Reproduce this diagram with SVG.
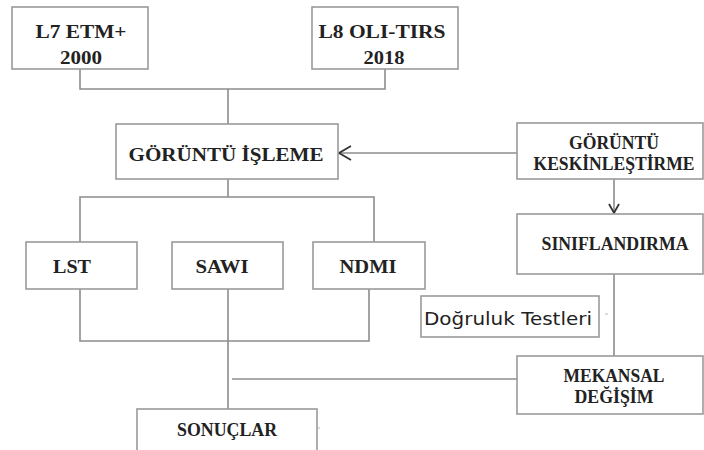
<svg xmlns="http://www.w3.org/2000/svg" width="704" height="450" viewBox="0 0 704 450">
<style>
.box{fill:#fff;stroke:#9a9a9a;stroke-width:1.6}
.lbl{font-family:"Liberation Serif","Times New Roman",serif;font-weight:bold;font-size:18px;fill:#222;text-anchor:middle}
.sans{font-family:"DejaVu Sans","Liberation Sans",sans-serif;font-size:17px;fill:#222;text-anchor:middle}
.con{fill:none;stroke:#8c8c8c;stroke-width:1.6}
</style>
<defs>
<marker id="chev" markerUnits="userSpaceOnUse" markerWidth="16" markerHeight="18" viewBox="-14 -9 16 18" refX="0" refY="0" orient="auto">
<path d="M-12,-7 L0,0 L-12,7" fill="none" stroke="#333" stroke-width="1.8"/>
</marker>
<marker id="chev2" markerUnits="userSpaceOnUse" markerWidth="14" markerHeight="14" viewBox="-12 -7 14 14" refX="0" refY="0" orient="auto">
<path d="M-9,-5 L0,0 L-9,5" fill="none" stroke="#333" stroke-width="1.8"/>
</marker>
</defs>
<rect width="704" height="450" fill="#fff"/>
<g id="connectors">
<path class="con" d="M80 69 V89 H385 V69"/>
<path class="con" d="M228 89 V124"/>
<path class="con" d="M517 153 H339" marker-end="url(#chev)"/>
<path class="con" d="M614 179 V213" marker-end="url(#chev2)"/>
<path class="con" d="M228 179 V197"/>
<path class="con" d="M80 242 V197 H374 V242"/>
<path class="con" d="M80 289 V341 H369 V289"/>
<path class="con" d="M228 289 V409"/>
<path class="con" d="M232 379 H517"/>
<path class="con" d="M614 274 V356"/>
<path d="M605 314 H608" stroke="#bbb" stroke-width="1"/>
<path d="M317 428 H320" stroke="#bbb" stroke-width="1"/>
</g>
<g id="l7">
<rect class="box" x="12" y="7" width="136" height="62"/>
<text class="lbl" x="81" y="38" textLength="91" lengthAdjust="spacingAndGlyphs">L7 ETM+</text>
<text class="lbl" x="81" y="64" textLength="42" lengthAdjust="spacingAndGlyphs">2000</text>
</g>
<g id="l8">
<rect class="box" x="312" y="7" width="146" height="62"/>
<text class="lbl" x="382" y="38" textLength="127" lengthAdjust="spacingAndGlyphs">L8 OLI-TIRS</text>
<text class="lbl" x="384" y="64" textLength="41" lengthAdjust="spacingAndGlyphs">2018</text>
</g>
<g id="isleme">
<rect class="box" x="116" y="124" width="222" height="55"/>
<text class="lbl" x="226" y="161" font-size="20" textLength="195" lengthAdjust="spacingAndGlyphs">GÖRÜNTÜ İŞLEME</text>
</g>
<g id="keskin">
<rect class="box" x="517" y="123" width="186" height="56"/>
<text class="lbl" x="614" y="149" font-size="16" textLength="90" lengthAdjust="spacingAndGlyphs">GÖRÜNTÜ</text>
<text class="lbl" x="614" y="170" font-size="16" textLength="161" lengthAdjust="spacingAndGlyphs">KESKİNLEŞTİRME</text>
</g>
<g id="sinif">
<rect class="box" x="517" y="214" width="186" height="60"/>
<text class="lbl" x="615" y="250" font-size="16" textLength="147" lengthAdjust="spacingAndGlyphs">SINIFLANDIRMA</text>
</g>
<g id="lst">
<rect class="box" x="26" y="242" width="111" height="47"/>
<text class="lbl" x="72" y="273" textLength="38" lengthAdjust="spacingAndGlyphs">LST</text>
</g>
<g id="sawi">
<rect class="box" x="172" y="242" width="111" height="47"/>
<text class="lbl" x="222" y="273" textLength="53" lengthAdjust="spacingAndGlyphs">SAWI</text>
</g>
<g id="ndmi">
<rect class="box" x="313" y="242" width="112" height="47"/>
<text class="lbl" x="368" y="273" textLength="57" lengthAdjust="spacingAndGlyphs">NDMI</text>
</g>
<g id="dogruluk">
<rect class="box" x="421" y="296" width="178" height="41"/>
<text class="sans" x="508" y="325" textLength="168" lengthAdjust="spacingAndGlyphs">Doğruluk Testleri</text>
</g>
<g id="mekansal">
<rect class="box" x="517" y="356" width="186" height="58"/>
<text class="lbl" x="614" y="382" font-size="16" textLength="101" lengthAdjust="spacingAndGlyphs">MEKANSAL</text>
<text class="lbl" x="614" y="403" font-size="16" textLength="79" lengthAdjust="spacingAndGlyphs">DEĞİŞİM</text>
</g>
<g id="sonuclar">
<rect class="box" x="137" y="409" width="180" height="44"/>
<text class="lbl" x="227" y="436" font-size="16" textLength="100" lengthAdjust="spacingAndGlyphs">SONUÇLAR</text>
</g>
</svg>
